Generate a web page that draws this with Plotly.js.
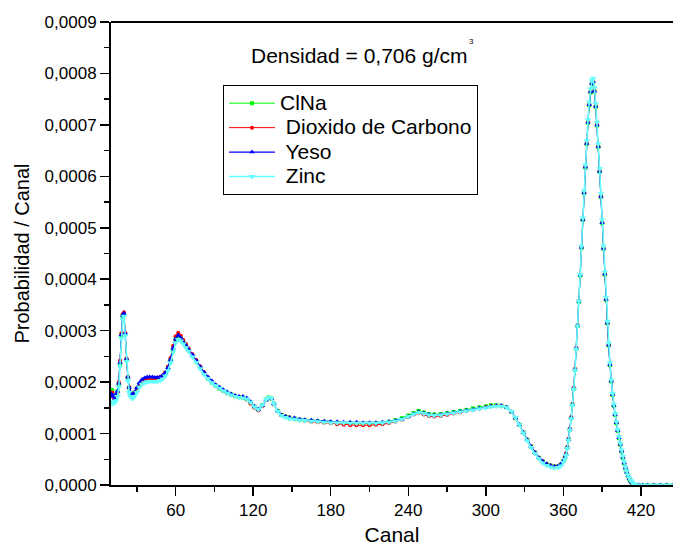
<!DOCTYPE html>
<html><head><meta charset="utf-8">
<script src="https://cdn.plot.ly/plotly-3.0.1.min.js"></script>
<style>html,body{margin:0;padding:0;background:#fff;overflow:hidden}#chart{width:673px;height:549px}</style>
</head><body><div id="chart"></div>
<script>
const canal = [10,11,12,13,14,15,16,17,18,19,20,21,22,23,24,25,26,27,28,
30,32,34,36,38,40,42,44,46,48,50,52,54,56,58,60,62,64,66,68,70,
73,76,79,82,85,88,91,94,97,100,103,106,109,112,115,118,121,124,127,130,
132,134,136,139,142,145,148,152,156,160,
165,170,175,180,185,190,195,200,205,210,215,220,225,230,235,240,
244,248,252,256,260,265,270,275,280,285,290,295,300,
304,308,312,316,320,
323,326,329,332,335,338,341,344,347,350,353,356,358,360,
361,362,363,364,365,366,367,368,369,370,
371,372,373,374,375,376,377,378,379,380,
381,382,383,384,385,386,387,388,389,390,
391,392,393,394,395,396,397,398,399,400,
401,402,403,404,405,406,407,408,409,410,
411,412,413,414,415,
418,421,425,430,435,440,445];

const clna = [1.85e-4,1.84e-4,1.72e-4,1.70e-4,1.75e-4,1.82e-4,1.97e-4,2.36e-4,2.90e-4,3.28e-4,3.32e-4,2.93e-4,2.44e-4,2.09e-4,1.89e-4,1.79e-4,1.75e-4,1.74e-4,1.79e-4,
1.87e-4,1.96e-4,2.02e-4,2.05e-4,2.07e-4,2.07e-4,2.07e-4,2.06e-4,2.06e-4,2.08e-4,2.11e-4,2.17e-4,2.27e-4,2.43e-4,2.65e-4,2.83e-4,2.90e-4,2.85e-4,2.78e-4,2.70e-4,2.62e-4,
2.51e-4,2.40e-4,2.28e-4,2.17e-4,2.07e-4,1.99e-4,1.93e-4,1.87e-4,1.83e-4,1.79e-4,1.76e-4,1.73e-4,1.71e-4,1.70e-4,1.67e-4,1.60e-4,1.52e-4,1.47e-4,1.55e-4,1.66e-4,
1.70e-4,1.68e-4,1.58e-4,1.44e-4,1.36e-4,1.33e-4,1.31e-4,1.29e-4,1.27e-4,1.26e-4,
1.25e-4,1.24e-4,1.23e-4,1.22e-4,1.21e-4,1.20e-4,1.20e-4,1.19e-4,1.19e-4,1.19e-4,1.20e-4,1.21e-4,1.23e-4,1.26e-4,1.30e-4,1.35e-4,
1.40e-4,1.44e-4,1.41e-4,1.38e-4,1.37e-4,1.38e-4,1.40e-4,1.42e-4,1.44e-4,1.46e-4,1.49e-4,1.51e-4,1.53e-4,
1.55e-4,1.55e-4,1.54e-4,1.51e-4,1.42e-4,
1.30e-4,1.17e-4,1.02e-4,0.88e-4,0.75e-4,0.63e-4,0.53e-4,0.46e-4,0.41e-4,0.38e-4,0.36e-4,0.37e-4,0.40e-4,0.47e-4,
0.52e-4,0.60e-4,0.72e-4,0.88e-4,1.08e-4,1.30e-4,1.56e-4,1.87e-4,2.24e-4,2.65e-4,
3.09e-4,3.56e-4,4.07e-4,4.61e-4,5.15e-4,5.67e-4,6.17e-4,6.63e-4,7.04e-4,7.38e-4,
7.63e-4,7.79e-4,7.83e-4,7.65e-4,7.35e-4,6.99e-4,6.57e-4,6.09e-4,5.60e-4,5.09e-4,
4.59e-4,4.09e-4,3.60e-4,3.14e-4,2.71e-4,2.33e-4,2.01e-4,1.75e-4,1.54e-4,1.36e-4,
1.20e-4,1.05e-4,0.91e-4,0.78e-4,0.65e-4,0.53e-4,0.42e-4,0.32e-4,0.24e-4,0.17e-4,
0.11e-4,0.07e-4,0.04e-4,0.02e-4,0.01e-4,
0,0,0,0,0,0,0];

const dioxido = [1.75e-4,1.80e-4,1.70e-4,1.66e-4,1.72e-4,1.80e-4,2.00e-4,2.42e-4,2.95e-4,3.32e-4,3.36e-4,2.96e-4,2.46e-4,2.10e-4,1.90e-4,1.80e-4,1.76e-4,1.75e-4,1.80e-4,
1.88e-4,1.97e-4,2.03e-4,2.06e-4,2.08e-4,2.08e-4,2.08e-4,2.08e-4,2.08e-4,2.10e-4,2.13e-4,2.19e-4,2.30e-4,2.47e-4,2.70e-4,2.89e-4,2.96e-4,2.90e-4,2.82e-4,2.74e-4,2.66e-4,
2.54e-4,2.43e-4,2.31e-4,2.19e-4,2.09e-4,2.01e-4,1.94e-4,1.88e-4,1.83e-4,1.79e-4,1.76e-4,1.73e-4,1.71e-4,1.70e-4,1.66e-4,1.58e-4,1.50e-4,1.45e-4,1.53e-4,1.65e-4,
1.69e-4,1.68e-4,1.57e-4,1.43e-4,1.36e-4,1.33e-4,1.31e-4,1.29e-4,1.27e-4,1.25e-4,
1.23e-4,1.22e-4,1.21e-4,1.20e-4,1.18e-4,1.17e-4,1.16e-4,1.16e-4,1.16e-4,1.16e-4,1.17e-4,1.18e-4,1.20e-4,1.23e-4,1.27e-4,1.32e-4,
1.37e-4,1.40e-4,1.37e-4,1.34e-4,1.33e-4,1.34e-4,1.36e-4,1.39e-4,1.41e-4,1.44e-4,1.46e-4,1.48e-4,1.51e-4,
1.53e-4,1.54e-4,1.54e-4,1.51e-4,1.42e-4,
1.30e-4,1.17e-4,1.02e-4,0.88e-4,0.75e-4,0.63e-4,0.53e-4,0.46e-4,0.41e-4,0.38e-4,0.36e-4,0.37e-4,0.40e-4,0.47e-4,
0.53e-4,0.61e-4,0.74e-4,0.90e-4,1.10e-4,1.32e-4,1.58e-4,1.89e-4,2.26e-4,2.67e-4,
3.11e-4,3.58e-4,4.09e-4,4.63e-4,5.17e-4,5.69e-4,6.19e-4,6.65e-4,7.06e-4,7.40e-4,
7.65e-4,7.81e-4,7.85e-4,7.67e-4,7.37e-4,7.01e-4,6.59e-4,6.11e-4,5.62e-4,5.11e-4,
4.61e-4,4.11e-4,3.62e-4,3.16e-4,2.73e-4,2.35e-4,2.03e-4,1.77e-4,1.56e-4,1.38e-4,
1.22e-4,1.07e-4,0.93e-4,0.80e-4,0.67e-4,0.55e-4,0.44e-4,0.34e-4,0.26e-4,0.19e-4,
0.13e-4,0.08e-4,0.05e-4,0.03e-4,0.01e-4,
0,0,0,0,0,0,0];

const yeso = [1.78e-4,1.72e-4,1.74e-4,1.68e-4,1.76e-4,1.82e-4,1.98e-4,2.38e-4,2.92e-4,3.30e-4,3.34e-4,2.95e-4,2.45e-4,2.10e-4,1.90e-4,1.80e-4,1.76e-4,1.75e-4,1.80e-4,
1.89e-4,1.99e-4,2.05e-4,2.08e-4,2.10e-4,2.10e-4,2.10e-4,2.09e-4,2.09e-4,2.10e-4,2.13e-4,2.18e-4,2.28e-4,2.44e-4,2.66e-4,2.84e-4,2.91e-4,2.86e-4,2.78e-4,2.71e-4,2.64e-4,
2.53e-4,2.42e-4,2.30e-4,2.19e-4,2.10e-4,2.02e-4,1.95e-4,1.90e-4,1.85e-4,1.81e-4,1.77e-4,1.74e-4,1.72e-4,1.72e-4,1.69e-4,1.62e-4,1.53e-4,1.47e-4,1.54e-4,1.65e-4,
1.69e-4,1.68e-4,1.58e-4,1.44e-4,1.36e-4,1.33e-4,1.31e-4,1.30e-4,1.28e-4,1.27e-4,
1.26e-4,1.25e-4,1.24e-4,1.23e-4,1.23e-4,1.22e-4,1.22e-4,1.22e-4,1.21e-4,1.21e-4,1.21e-4,1.22e-4,1.23e-4,1.25e-4,1.28e-4,1.33e-4,
1.38e-4,1.42e-4,1.40e-4,1.37e-4,1.36e-4,1.37e-4,1.39e-4,1.41e-4,1.43e-4,1.45e-4,1.47e-4,1.49e-4,1.51e-4,
1.53e-4,1.54e-4,1.54e-4,1.51e-4,1.42e-4,
1.30e-4,1.17e-4,1.02e-4,0.88e-4,0.75e-4,0.63e-4,0.53e-4,0.46e-4,0.41e-4,0.38e-4,0.36e-4,0.37e-4,0.40e-4,0.47e-4,
0.53e-4,0.60e-4,0.73e-4,0.89e-4,1.09e-4,1.31e-4,1.57e-4,1.88e-4,2.25e-4,2.66e-4,
3.10e-4,3.57e-4,4.08e-4,4.62e-4,5.16e-4,5.68e-4,6.18e-4,6.64e-4,7.05e-4,7.39e-4,
7.64e-4,7.80e-4,7.84e-4,7.66e-4,7.36e-4,7.00e-4,6.58e-4,6.10e-4,5.61e-4,5.10e-4,
4.60e-4,4.10e-4,3.61e-4,3.15e-4,2.72e-4,2.34e-4,2.02e-4,1.76e-4,1.55e-4,1.37e-4,
1.21e-4,1.06e-4,0.92e-4,0.79e-4,0.66e-4,0.54e-4,0.43e-4,0.33e-4,0.25e-4,0.18e-4,
0.12e-4,0.08e-4,0.05e-4,0.03e-4,0.01e-4,
0,0,0,0,0,0,0];

const zinc = [1.60e-4,1.58e-4,1.62e-4,1.60e-4,1.64e-4,1.72e-4,1.90e-4,2.30e-4,2.85e-4,3.22e-4,3.28e-4,2.90e-4,2.40e-4,2.02e-4,1.80e-4,1.72e-4,1.69e-4,1.68e-4,1.72e-4,
1.80e-4,1.90e-4,1.96e-4,1.99e-4,2.00e-4,2.01e-4,2.01e-4,2.01e-4,2.01e-4,2.03e-4,2.06e-4,2.12e-4,2.22e-4,2.37e-4,2.58e-4,2.76e-4,2.83e-4,2.80e-4,2.74e-4,2.67e-4,2.60e-4,
2.49e-4,2.38e-4,2.26e-4,2.15e-4,2.07e-4,1.99e-4,1.93e-4,1.88e-4,1.83e-4,1.79e-4,1.75e-4,1.72e-4,1.70e-4,1.69e-4,1.67e-4,1.61e-4,1.52e-4,1.47e-4,1.55e-4,1.66e-4,
1.70e-4,1.69e-4,1.58e-4,1.43e-4,1.35e-4,1.31e-4,1.29e-4,1.28e-4,1.26e-4,1.25e-4,
1.24e-4,1.23e-4,1.22e-4,1.21e-4,1.21e-4,1.21e-4,1.20e-4,1.20e-4,1.20e-4,1.20e-4,1.20e-4,1.21e-4,1.22e-4,1.24e-4,1.28e-4,1.33e-4,
1.38e-4,1.41e-4,1.39e-4,1.36e-4,1.35e-4,1.36e-4,1.38e-4,1.40e-4,1.42e-4,1.44e-4,1.46e-4,1.48e-4,1.50e-4,
1.52e-4,1.53e-4,1.53e-4,1.51e-4,1.43e-4,
1.31e-4,1.17e-4,1.01e-4,0.86e-4,0.73e-4,0.61e-4,0.51e-4,0.43e-4,0.38e-4,0.35e-4,0.33e-4,0.34e-4,0.37e-4,0.44e-4,
0.50e-4,0.58e-4,0.71e-4,0.87e-4,1.07e-4,1.29e-4,1.55e-4,1.86e-4,2.23e-4,2.64e-4,
3.09e-4,3.57e-4,4.09e-4,4.64e-4,5.19e-4,5.72e-4,6.22e-4,6.69e-4,7.10e-4,7.44e-4,
7.70e-4,7.86e-4,7.90e-4,7.72e-4,7.41e-4,7.05e-4,6.63e-4,6.15e-4,5.66e-4,5.15e-4,
4.64e-4,4.14e-4,3.65e-4,3.18e-4,2.76e-4,2.37e-4,2.04e-4,1.78e-4,1.57e-4,1.39e-4,
1.23e-4,1.08e-4,0.94e-4,0.81e-4,0.68e-4,0.56e-4,0.45e-4,0.35e-4,0.27e-4,0.20e-4,
0.14e-4,0.09e-4,0.06e-4,0.03e-4,0.01e-4,
0,0,0,0,0,0,0];

const seriesNames = ['ClNa', ' Dioxido de Carbono', ' Yeso', ' Zinc'];
const seriesValues = [clna, dioxido, yeso, zinc];
const seriesColors = ['#00FF00', '#FF0000', '#0000FF', '#66FFFF'];
const seriesSymbols = ['square', 'circle', 'triangle-up', 'triangle-down'];
const seriesMarkerSizes = [4, 4, 5, 6];
const seriesLineWidths = [1, 1, 1.2, 1.6];

const xTickVals = [60, 120, 180, 240, 300, 360, 420];
const yTickVals = [0, 0.0001, 0.0002, 0.0003, 0.0004, 0.0005, 0.0006, 0.0007, 0.0008, 0.0009];
const yTickText = ['0,0000','0,0001','0,0002','0,0003','0,0004','0,0005','0,0006','0,0007','0,0008','0,0009'];

const traces = seriesNames.map((name, i) => ({
  type: 'scatter', mode: 'lines+markers',
  name: '<span style="font-size:21px">' + name + '</span>',
  x: canal, y: seriesValues[i],
  line: {color: seriesColors[i], width: seriesLineWidths[i]},
  marker: {color: seriesColors[i], symbol: seriesSymbols[i], size: seriesMarkerSizes[i], line: {width: 0}}
}));

const FONT = 'Arial, "Liberation Sans", sans-serif';
const layout = {
  width: 673, height: 549,
  margin: {l: 111, r: 0, t: 22, b: 64, pad: 0},
  paper_bgcolor: '#ffffff', plot_bgcolor: '#ffffff',
  font: {family: FONT, color: '#000000'},
  separators: ',.',
  showlegend: true,
  legend: {x: 0.1993, y: 0.864, xanchor: 'left', yanchor: 'top', bgcolor: '#ffffff',
    bordercolor: '#000000', borderwidth: 1, font: {size: 16.5, family: FONT}, itemwidth: 46, tracegroupgap: 0},
  xaxis: {range: [10, 444.8], tickmode: 'array', tickvals: xTickVals,
    ticks: 'outside', ticklen: 9, tickwidth: 1.5, tickcolor: '#000',
    showline: true, linewidth: 2, linecolor: '#000', showgrid: false, zeroline: false,
    tickfont: {size: 17, family: FONT},
    title: {text: 'Canal', font: {size: 21, family: FONT}, standoff: 8},
    minor: {tickmode: 'linear', tick0: 0, dtick: 30, ticks: 'outside', ticklen: 5, tickwidth: 1.5, tickcolor: '#000', showgrid: false}},
  yaxis: {range: [0, 0.0009], tickmode: 'array', tickvals: yTickVals, ticktext: yTickText,
    ticks: 'outside', ticklen: 9, tickwidth: 1.5, tickcolor: '#000',
    showline: true, linewidth: 2, linecolor: '#000', showgrid: false, zeroline: false,
    tickfont: {size: 17, family: FONT},
    title: {text: 'Probabilidad / Canal', font: {size: 20, family: FONT}, standoff: 10},
    minor: {tickmode: 'linear', tick0: 0, dtick: 0.00005, ticks: 'outside', ticklen: 5, tickwidth: 1.5, tickcolor: '#000', showgrid: false}},
  shapes: [{type: 'line', xref: 'paper', yref: 'paper', x0: 0, x1: 1, y0: 1, y1: 1, line: {color: '#000', width: 2}}],
  annotations: [
    {text: 'Densidad = 0,706 g/cm', xref: 'paper', yref: 'paper', x: 0.4416, y: 0.9287, xanchor: 'center', yanchor: 'middle', showarrow: false, font: {size: 21, family: FONT}},
    {text: '3', xref: 'paper', yref: 'paper', x: 0.6423, y: 0.9575, xanchor: 'center', yanchor: 'middle', showarrow: false, font: {size: 8, family: FONT}}
  ]
};

Plotly.newPlot('chart', traces, layout, {staticPlot: true, displayModeBar: false});
</script>
</body></html>
